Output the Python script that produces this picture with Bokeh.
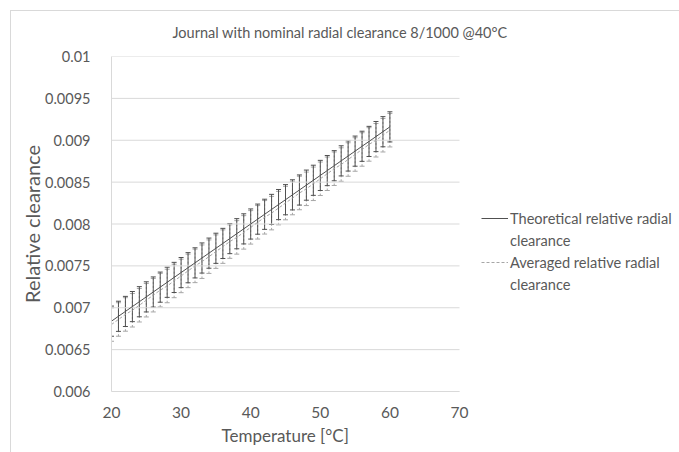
from bokeh.plotting import figure
from bokeh.models import (Range1d, FixedTicker, CustomJSTickFormatter, Whisker, TeeHead,
                          ColumnDataSource, Legend, LegendItem, Title)
from bokeh.embed import file_html
from bokeh.resources import INLINE

# ---- data ----
temperature = [20, 21, 22, 23, 24, 25, 26, 27, 28, 29, 30, 31, 32, 33, 34, 35, 36, 37, 38, 39, 40,
               41, 42, 43, 44, 45, 46, 47, 48, 49, 50, 51, 52, 53, 54, 55, 56, 57, 58, 59, 60]
theoretical = [0.006840, 0.006898, 0.006956, 0.007014, 0.007072, 0.007130, 0.007188, 0.007246,
               0.007304, 0.007362, 0.007420, 0.007478, 0.007536, 0.007594, 0.007652, 0.007710,
               0.007768, 0.007826, 0.007884, 0.007942, 0.008000, 0.008058, 0.008116, 0.008174,
               0.008232, 0.008290, 0.008348, 0.008406, 0.008464, 0.008522, 0.008580, 0.008638,
               0.008696, 0.008754, 0.008812, 0.008870, 0.008928, 0.008986, 0.009044, 0.009102,
               0.009160]
averaged = [0.00680, 0.00686, 0.00692, 0.00697, 0.00703, 0.00709, 0.00715, 0.00721, 0.00726,
            0.00732, 0.00738, 0.00744, 0.00750, 0.00755, 0.00761, 0.00767, 0.00773, 0.00779,
            0.00784, 0.00790, 0.00796, 0.00802, 0.00808, 0.00813, 0.00819, 0.00825, 0.00831,
            0.00837, 0.00842, 0.00848, 0.00854, 0.00860, 0.00866, 0.00871, 0.00877, 0.00883,
            0.00889, 0.00895, 0.00900, 0.00906, 0.00912]
theoretical_err = 0.00018
averaged_err = 0.00020
x_ticks = [20, 30, 40, 50, 60, 70]
y_ticks = [0.006, 0.0065, 0.007, 0.0075, 0.008, 0.0085, 0.009, 0.0095, 0.01]

title = "Journal with nominal radial clearance 8/1000 @40°C"
x_label = "Temperature [°C]"
y_label = "Relative clearance"
legend_lines = [["Theoretical relative radial", "clearance"],
                ["Averaged relative radial", "clearance"]]

FONT = "Lato"
TXT = "#595959"
GRID = "#d9d9d9"

# the frame runs to the right edge so the legend can sit inside it; the axis itself
# spans 20..70 over 348 px, the remaining 221 px hold the legend
X_MIN, X_MAX = x_ticks[0], x_ticks[-1]
x_end = X_MIN + (X_MAX - X_MIN) * 569 / 348

p = figure(width=669, height=442, output_backend="svg", toolbar_location=None,
           x_range=Range1d(X_MIN, x_end), y_range=Range1d(y_ticks[0], y_ticks[-1]),
           min_border_left=100, min_border_right=0, min_border_top=45, min_border_bottom=62)
p.margin = (10, 0, 0, 10)
p.styles = {"border-left": "1px solid #d9d9d9", "border-top": "1px solid #d9d9d9"}
p.background_fill_color = "white"
p.border_fill_color = "white"
p.outline_line_color = None

# spacer between the title and the frame
p.add_layout(Title(text=" ", text_font_size="8px", standoff=0), "above")

p.title.text = title
p.title.align = "left"
p.title.offset = 61
p.title.text_font = FONT
p.title.text_font_size = "14.5px"
p.title.text_font_style = "normal"
p.title.text_color = TXT
p.title.standoff = 9

# axes
p.xaxis.ticker = FixedTicker(ticks=x_ticks)
p.xaxis.bounds = (X_MIN, X_MAX)
p.yaxis.ticker = FixedTicker(ticks=y_ticks)
p.yaxis.formatter = CustomJSTickFormatter(code="return tick.toFixed(4).replace(/0+$/, '');")
for ax in (p.xaxis[0], p.yaxis[0]):
    ax.axis_line_color = GRID
    ax.major_tick_line_color = None
    ax.minor_tick_line_color = None
    ax.major_label_text_font = FONT
    ax.major_label_text_font_size = "14.5px"
    ax.major_label_text_color = TXT
    ax.axis_label_text_font = FONT
    ax.axis_label_text_font_style = "normal"
    ax.axis_label_text_color = TXT
p.xaxis.major_label_text_font_size = "15.5px"
p.yaxis.axis_label = y_label
p.yaxis.axis_label_text_font_size = "20px"
p.xaxis.major_label_standoff = 9
p.yaxis.major_label_standoff = 15
p.yaxis.axis_label_standoff = -2

# x axis title, placed under the 20..70 span
p.add_layout(Title(text=x_label, align="left", offset=110, text_font=FONT,
                   text_font_size="17px", text_font_style="normal", text_color=TXT,
                   standoff=4), "below")

# horizontal gridlines limited to the axis span
p.xgrid.grid_line_color = None
p.ygrid.grid_line_color = None
p.segment(x0=[X_MIN] * len(y_ticks), x1=[X_MAX] * len(y_ticks), y0=y_ticks, y1=y_ticks,
          line_color=GRID, line_width=1)

# sources
theo_src = ColumnDataSource(dict(
    x=temperature, y=theoretical,
    up=[v + theoretical_err for v in theoretical],
    lo=[v - theoretical_err for v in theoretical]))
avg_src = ColumnDataSource(dict(
    x=temperature, y=averaged,
    up=[v + averaged_err for v in averaged],
    lo=[v - averaged_err for v in averaged]))

# averaged (dashed, lighter)
r_avg = p.line("x", "y", source=avg_src, line_color="#a6a6a6", line_width=1, line_dash="3 2")
w_avg = Whisker(source=avg_src, base="x", upper="up", lower="lo", dimension="height",
                line_color="#a6a6a6", line_width=1, line_dash="2 2",
                upper_head=TeeHead(size=5, line_color="#a6a6a6", line_width=1),
                lower_head=TeeHead(size=5, line_color="#a6a6a6", line_width=1))
p.add_layout(w_avg)

# theoretical (solid, darker)
r_theo = p.line("x", "y", source=theo_src, line_color="#505050", line_width=1)
w_theo = Whisker(source=theo_src, base="x", upper="up", lower="lo", dimension="height",
                 line_color="#505050", line_width=1,
                 upper_head=TeeHead(size=5, line_color="#505050", line_width=1),
                 lower_head=TeeHead(size=5, line_color="#505050", line_width=1))
p.add_layout(w_theo)

# invisible renderer used for the wrapped second lines of the legend labels
r_blank = p.line(x=[], y=[], line_alpha=0)

legend = Legend(items=[LegendItem(label=legend_lines[0][0], renderers=[r_theo]),
                       LegendItem(label=legend_lines[0][1], renderers=[r_blank]),
                       LegendItem(label=legend_lines[1][0], renderers=[r_avg]),
                       LegendItem(label=legend_lines[1][1], renderers=[r_blank])],
                location=(370, 97))
legend.border_line_color = None
legend.background_fill_alpha = 0
legend.padding = 0
legend.margin = 0
legend.spacing = 2
legend.glyph_width = 27
legend.glyph_height = 20
legend.label_height = 20
legend.label_standoff = 2
legend.label_text_font = FONT
legend.label_text_font_size = "14.6px"
legend.label_text_color = TXT
p.add_layout(legend, "center")

open("out.html", "w").write(file_html(p, INLINE))
